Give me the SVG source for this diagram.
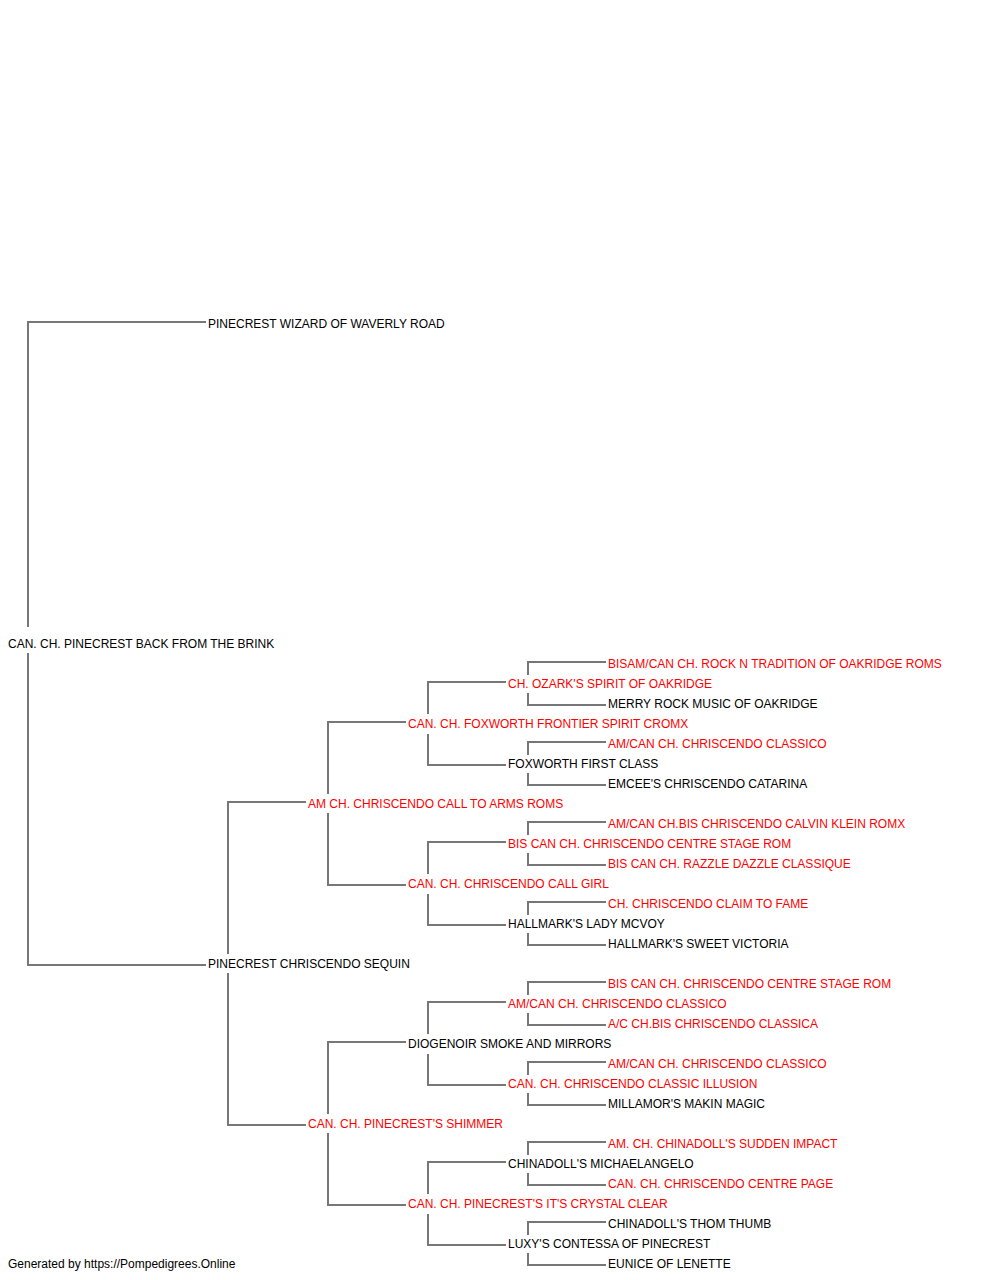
<svg xmlns="http://www.w3.org/2000/svg" width="1000" height="1280" viewBox="0 0 1000 1280">
<style>
text{font-family:"Liberation Sans",Arial,sans-serif;font-size:12px;fill:#000}
text.r{fill:#ff0000}
.c path{fill:none;stroke:#777;stroke-width:2}
</style>
<rect width="1000" height="1280" fill="#fff"/>
<g class="c" id="connectors">
<path d="M206 322H28V627M28 653V965H206"/>
<path d="M306 802H228V954M228 973V1125H306"/>
<path d="M406 722H328V794M328 813V885H406"/>
<path d="M406 1042H328V1114M328 1133V1205H406"/>
<path d="M506 682H428V714M428 734V765H506"/>
<path d="M506 842H428V874M428 894V925H506"/>
<path d="M506 1002H428V1034M428 1054V1085H506"/>
<path d="M506 1162H428V1194M428 1214V1245H506"/>
<path d="M606 662H528V675M528 693V705H606"/>
<path d="M606 742H528V755M528 773V785H606"/>
<path d="M606 822H528V835M528 853V865H606"/>
<path d="M606 902H528V915M528 933V945H606"/>
<path d="M606 982H528V995M528 1013V1025H606"/>
<path d="M606 1062H528V1075M528 1093V1105H606"/>
<path d="M606 1142H528V1155M528 1173V1185H606"/>
<path d="M606 1222H528V1235M528 1253V1265H606"/>
</g>
<g id="n0"><text x="8" y="647.5">CAN. CH. PINECREST BACK FROM THE BRINK</text></g>
<g id="n1"><text x="208" y="327.5">PINECREST WIZARD OF WAVERLY ROAD</text></g>
<g id="n2"><text x="208" y="967.5">PINECREST CHRISCENDO SEQUIN</text></g>
<g id="n3"><text class="r" x="308" y="807.5">AM CH. CHRISCENDO CALL TO ARMS ROMS</text></g>
<g id="n4"><text class="r" x="308" y="1127.5">CAN. CH. PINECREST'S SHIMMER</text></g>
<g id="n5"><text class="r" x="408" y="727.5">CAN. CH. FOXWORTH FRONTIER SPIRIT CROMX</text></g>
<g id="n6"><text class="r" x="408" y="887.5">CAN. CH. CHRISCENDO CALL GIRL</text></g>
<g id="n7"><text x="408" y="1047.5">DIOGENOIR SMOKE AND MIRRORS</text></g>
<g id="n8"><text class="r" x="408" y="1207.5">CAN. CH. PINECREST'S IT'S CRYSTAL CLEAR</text></g>
<g id="n9"><text class="r" x="508" y="687.5">CH. OZARK'S SPIRIT OF OAKRIDGE</text></g>
<g id="n10"><text x="508" y="767.5">FOXWORTH FIRST CLASS</text></g>
<g id="n11"><text class="r" x="508" y="847.5">BIS CAN CH. CHRISCENDO CENTRE STAGE ROM</text></g>
<g id="n12"><text x="508" y="927.5">HALLMARK'S LADY MCVOY</text></g>
<g id="n13"><text class="r" x="508" y="1007.5">AM/CAN CH. CHRISCENDO CLASSICO</text></g>
<g id="n14"><text class="r" x="508" y="1087.5">CAN. CH. CHRISCENDO CLASSIC ILLUSION</text></g>
<g id="n15"><text x="508" y="1167.5">CHINADOLL'S MICHAELANGELO</text></g>
<g id="n16"><text x="508" y="1247.5">LUXY'S CONTESSA OF PINECREST</text></g>
<g id="n17"><text class="r" x="608" y="667.5">BISAM/CAN CH. ROCK N TRADITION OF OAKRIDGE ROMS</text></g>
<g id="n18"><text x="608" y="707.5">MERRY ROCK MUSIC OF OAKRIDGE</text></g>
<g id="n19"><text class="r" x="608" y="747.5">AM/CAN CH. CHRISCENDO CLASSICO</text></g>
<g id="n20"><text x="608" y="787.5">EMCEE'S CHRISCENDO CATARINA</text></g>
<g id="n21"><text class="r" x="608" y="827.5">AM/CAN CH.BIS CHRISCENDO CALVIN KLEIN ROMX</text></g>
<g id="n22"><text class="r" x="608" y="867.5">BIS CAN CH. RAZZLE DAZZLE CLASSIQUE</text></g>
<g id="n23"><text class="r" x="608" y="907.5">CH. CHRISCENDO CLAIM TO FAME</text></g>
<g id="n24"><text x="608" y="947.5">HALLMARK'S SWEET VICTORIA</text></g>
<g id="n25"><text class="r" x="608" y="987.5">BIS CAN CH. CHRISCENDO CENTRE STAGE ROM</text></g>
<g id="n26"><text class="r" x="608" y="1027.5">A/C CH.BIS CHRISCENDO CLASSICA</text></g>
<g id="n27"><text class="r" x="608" y="1067.5">AM/CAN CH. CHRISCENDO CLASSICO</text></g>
<g id="n28"><text x="608" y="1107.5">MILLAMOR'S MAKIN MAGIC</text></g>
<g id="n29"><text class="r" x="608" y="1147.5">AM. CH. CHINADOLL'S SUDDEN IMPACT</text></g>
<g id="n30"><text class="r" x="608" y="1187.5">CAN. CH. CHRISCENDO CENTRE PAGE</text></g>
<g id="n31"><text x="608" y="1227.5">CHINADOLL'S THOM THUMB</text></g>
<g id="n32"><text x="608" y="1267.5">EUNICE OF LENETTE</text></g>
<text x="8" y="1267.5">Generated by https://Pompedigrees.Online</text>
</svg>
